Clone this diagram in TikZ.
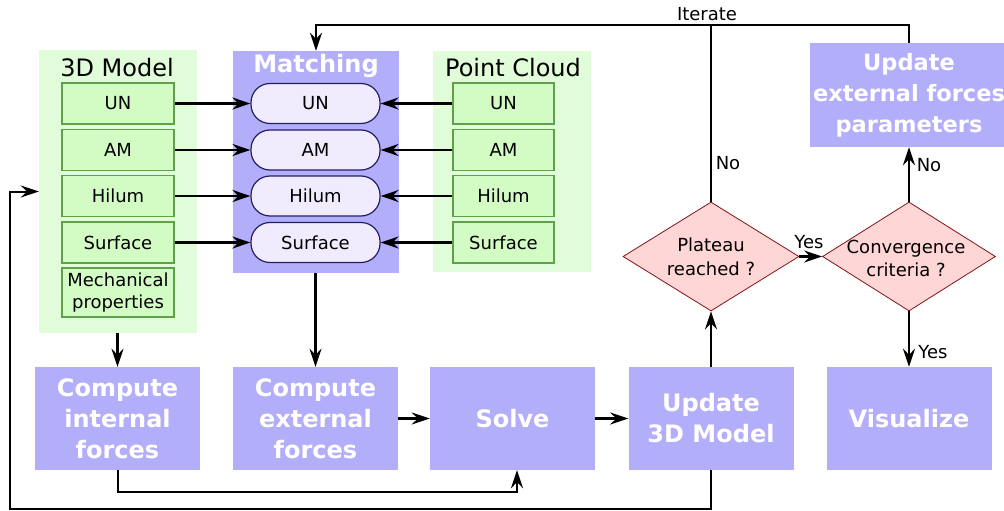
\documentclass[tikz,border=0pt]{standalone}
\usepackage{fontspec}
\setmainfont{DejaVu Sans}
\usetikzlibrary{shapes.geometric,arrows.meta}

\definecolor{greenBg}{RGB}{224,252,216}
\definecolor{greenBox}{RGB}{210,252,196}
\definecolor{greenLine}{RGB}{95,160,75}
\definecolor{procBlue}{RGB}{179,174,250}
\definecolor{pillFill}{RGB}{240,236,253}
\definecolor{pillLine}{RGB}{35,30,100}
\definecolor{decFill}{RGB}{255,214,214}
\definecolor{decLine}{RGB}{128,20,20}

\begin{document}
\begin{tikzpicture}[x=1pt, y=-1pt,
	>={Stealth[length=18pt, width=12pt, inset=6pt]},
	every node/.style={inner sep=0pt, font=\fontsize{18}{23}\selectfont},
	groupTitle/.style={font=\fontsize{24}{29}\selectfont},
	partBox/.style={draw=greenLine, fill=greenBox, line width=1.2pt, minimum width=112, minimum height=41},
	cloudBox/.style={partBox, minimum width=101},
	matchBox/.style={draw=pillLine, fill=pillFill, line width=1.2pt, rounded corners=19pt, minimum width=129, minimum height=40},
	procBox/.style={fill=procBlue, text=white, align=center, font=\fontsize{24}{31}\selectfont\bfseries, minimum width=165, minimum height=103},
	decision/.style={diamond, draw=decLine, fill=decFill, line width=0.8pt},
	flow/.style={->, line width=2.6pt},
	backFlow/.style={->, line width=2pt}]
			
			\useasboundingbox (0,0) rectangle (1004,511);
			
			\node[fill=greenBg, minimum width=158, minimum height=283] (model) at (118,191.5) {};
			\node[fill=procBlue, minimum width=166, minimum height=222] (matching) at (316,162) {};
			\node[fill=greenBg, minimum width=158, minimum height=221] (cloud) at (512,161.5) {};
			
			\node[groupTitle] (modelTitle) at (117,68) {3D Model};
			\node[groupTitle, text=white, font=\fontsize{24}{29}\selectfont\bfseries] (matchTitle) at (316,66) {Matching};
			\node[groupTitle] (cloudTitle) at (513,68) {Point Cloud};
			
			\node[partBox] (modelUN) at (118,103.5) {UN};
			\node[partBox] (modelAM) at (118,150) {AM};
			\node[partBox] (modelHil) at (118,196) {Hilum};
			\node[partBox] (modelSurf) at (118,242.5) {Surface};
			\node[partBox, minimum height=49, align=center, font=\fontsize{18}{22}\selectfont] (modelMech) at (118,292.5) {Mechanical\\properties};
			
			\node[matchBox] (matchUN) at (315.5,103.5) {UN};
			\node[matchBox] (matchAM) at (315.5,150) {AM};
			\node[matchBox] (matchHil) at (315.5,196) {Hilum};
			\node[matchBox] (matchSurf) at (315.5,242.5) {Surface};
			
			\node[cloudBox] (cloudUN) at (503.5,103.5) {UN};
			\node[cloudBox] (cloudAM) at (503.5,150) {AM};
			\node[cloudBox] (cloudHil) at (503.5,196) {Hilum};
			\node[cloudBox] (cloudSurf) at (503.5,242.5) {Surface};
			
			\draw[flow] (modelUN) -- (matchUN);
			\draw[flow] (modelAM) -- (matchAM);
			\draw[flow] (modelHil) -- (matchHil);
			\draw[flow] (modelSurf) -- (matchSurf);
			
			\draw[flow] (cloudUN) -- (matchUN);
			\draw[flow] (cloudAM) -- (matchAM);
			\draw[flow] (cloudHil) -- (matchHil);
			\draw[flow] (cloudSurf) -- (matchSurf);
			
			\node[procBox] (compInt) at (117.5,418.5) {Compute\\internal\\forces};
			\node[procBox] (compExt) at (315.5,418.5) {Compute\\external\\forces};
			\node[procBox] (solve) at (512.5,418.5) {Solve};
			\node[procBox] (updModel) at (711,418.5) {Update\\3D Model};
			\node[procBox] (visu) at (909,418.5) {Visualize};
			\node[procBox, minimum width=198, minimum height=104, font=\fontsize{22.5}{31}\selectfont\bfseries] (updExt) at (909,95) {Update\\external forces\\parameters};
			
			\node[decision, minimum width=176, minimum height=109] (plateau) at (711,256.5) {};
			\node[decision, minimum width=173, minimum height=109] (conv) at (909,256.5) {};
			\node[align=center, font=\fontsize{18}{24}\selectfont] (plateauText) at (711,257) {Plateau\\reached ?};
			\node[align=center, font=\fontsize{18}{23}\selectfont] (convText) at (906,258.5) {Convergence\\criteria ?};
			
			\draw[flow] (model.south -| compInt) -- (compInt.north);
			\draw[flow] (matching.south -| compExt) -- (compExt.north);
			\draw[flow] (compExt) -- (solve);
			\draw[flow] (solve) -- (updModel);
			\draw[flow] (updModel.north) -- (plateau.south);
			\draw[flow] (plateau.east) -- (conv.west);
			\draw[flow] (conv.north) -- (updExt.south);
			\draw[flow] (conv.south) -- (visu.north);
			
			\coordinate (iterTop) at (711,25);
			\draw[flow] (plateau.north) -- (iterTop) -| (matching.north);
			\draw[line width=2.6pt] (updExt.north) |- (iterTop);
			
			\coordinate (intLoop) at (117.5,492);
			\draw[backFlow] (compInt.south) -- (intLoop) -| ([xshift=4.5pt]solve.south);
			
			\coordinate (outLoopA) at (711,509);
			\coordinate (outLoopB) at (10,509);
			\draw[backFlow] (updModel.south) -- (outLoopA) -- (outLoopB) |- (model.west);
			
			\node (iterLbl) at (707,14) {Iterate};
			\node (noPlat) at (728,163) {No};
			\node (yesPlat) at (809,242) {Yes};
			\node (noConv) at (929,165) {No};
			\node (yesConv) at (933,352) {Yes};
			
\end{tikzpicture}
\end{document}
